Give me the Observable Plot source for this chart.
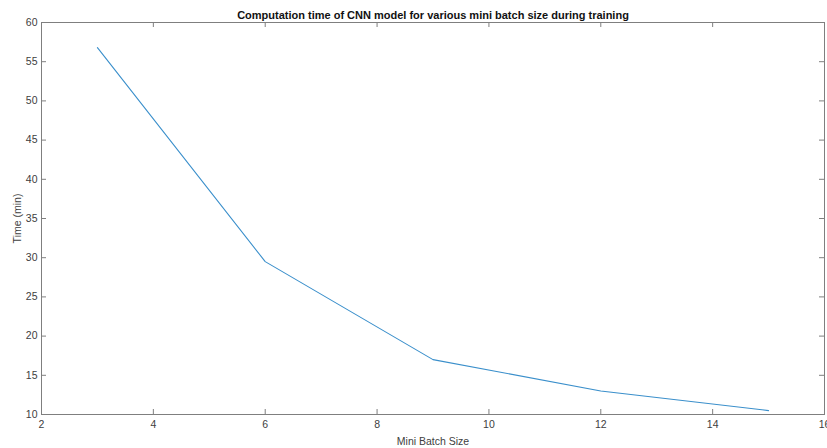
<!DOCTYPE html>
<html>
<head>
<meta charset="utf-8">
<script src="https://cdn.jsdelivr.net/npm/d3@7"></script>
<script src="https://cdn.jsdelivr.net/npm/@observablehq/plot@0.6"></script>
<style>
  html, body { margin: 0; padding: 0; background: #fff; overflow: hidden; }
  svg { display: block; }
</style>
</head>
<body>
<div id="chart"></div>
<script>
const batchSizes = [3, 6, 9, 12, 15];
const timesMin = [56.8, 29.5, 17.0, 13.0, 10.5];
const xTicks = [2, 4, 6, 8, 10, 12, 14, 16];
const yTicks = [10, 15, 20, 25, 30, 35, 40, 45, 50, 55, 60];
const title = "Computation time of CNN model for various mini batch size during training";
const xLabel = "Mini Batch Size";
const yLabel = "Time (min)";

const data = batchSizes.map((b, i) => ({batch: b, time: timesMin[i]}));

const W = 827, H = 448;
const mL = 41, mR = 3, mT = 22, mB = 34;
const innerW = W - mL - mR, innerH = H - mT - mB;
const tick = 5;
const axisColor = "#7f7f7f";
const textColor = "#404040";

const chart = Plot.plot({
  width: W,
  height: H,
  marginLeft: mL, marginRight: mR, marginTop: mT, marginBottom: mB,
  style: {fontFamily: "'Liberation Sans', Arial, Helvetica, sans-serif", fontSize: "10.5px", color: textColor, background: "#fff"},
  x: {domain: [2, 16]},
  y: {domain: [10, 60]},
  marks: [
    Plot.frame({stroke: axisColor, strokeWidth: 1}),
    Plot.tickX(xTicks, {x: d => d, insetTop: innerH - tick, stroke: axisColor}),
    Plot.tickX(xTicks, {x: d => d, insetBottom: innerH - tick, stroke: axisColor}),
    Plot.tickY(yTicks, {y: d => d, insetRight: innerW - tick, stroke: axisColor}),
    Plot.tickY(yTicks, {y: d => d, insetLeft: innerW - tick, stroke: axisColor}),
    Plot.axisX({ticks: xTicks, tickSize: 0, tickPadding: 6, tickFormat: d => String(d),
      label: xLabel, labelAnchor: "center", labelArrow: "none", labelOffset: 30, fill: textColor}),
    Plot.axisY({ticks: yTicks, tickSize: 0, tickPadding: 4, tickFormat: d => String(d),
      label: yLabel, labelAnchor: "center", labelArrow: "none", labelOffset: 28, fill: textColor}),
    Plot.line(data, {x: "batch", y: "time", stroke: "#3a8fcb", strokeWidth: 1.1}),
    Plot.text([title], {frameAnchor: "top", dy: -11, text: d => d, fontWeight: "bold", fontSize: 11, fill: "#111"})
  ]
});
document.getElementById("chart").appendChild(chart);
</script>
</body>
</html>
